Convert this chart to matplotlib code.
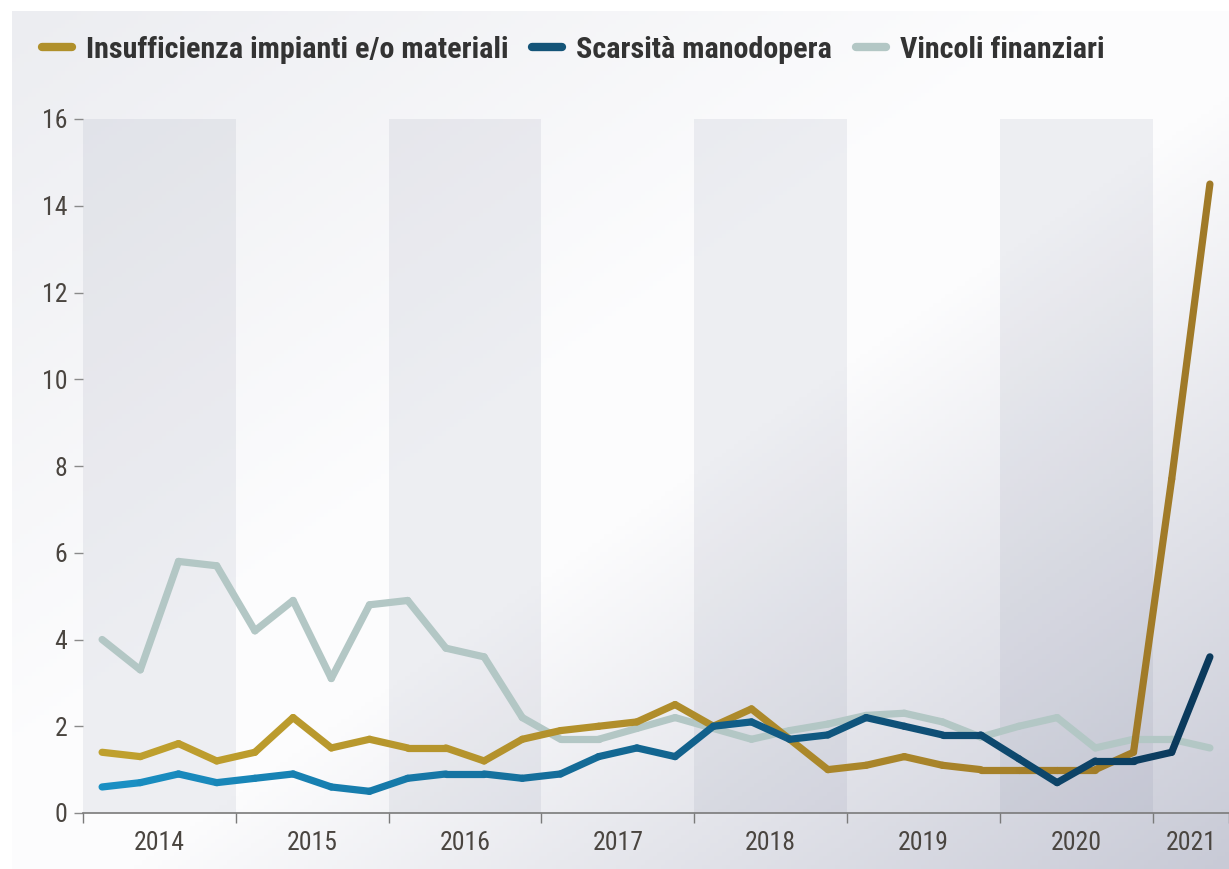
import numpy as np
import matplotlib
matplotlib.use('Agg')
import matplotlib.pyplot as plt
from matplotlib.collections import LineCollection
from matplotlib.colors import to_rgb
from matplotlib.lines import Line2D
from matplotlib import font_manager

# quarterly data, 2014Q1 - 2021Q2
years = ['2014', '2015', '2016', '2017', '2018', '2019', '2020', '2021']
impianti = [1.4, 1.3, 1.6, 1.2, 1.4, 2.2, 1.5, 1.7, 1.5, 1.5, 1.2, 1.7,
            1.9, 2.0, 2.1, 2.5, 2.0, 2.4, 1.7, 1.0, 1.1, 1.3, 1.1, 1.0,
            1.0, 1.0, 1.0, 1.4, 7.7, 14.5]
manodopera = [0.6, 0.7, 0.9, 0.7, 0.8, 0.9, 0.6, 0.5, 0.8, 0.9, 0.9, 0.8,
              0.9, 1.3, 1.5, 1.3, 2.0, 2.1, 1.7, 1.8, 2.2, 2.0, 1.8, 1.8,
              1.25, 0.7, 1.2, 1.2, 1.4, 3.6]
finanziari = [4.0, 3.3, 5.8, 5.7, 4.2, 4.9, 3.1, 4.8, 4.9, 3.8, 3.6, 2.2,
              1.7, 1.7, 1.95, 2.2, 1.95, 1.7, 1.9, 2.05, 2.25, 2.3, 2.1, 1.75,
              2.0, 2.2, 1.5, 1.7, 1.7, 1.5]
labels = ['Insufficienza impianti e/o materiali', 'Scarsità manodopera', 'Vincoli finanziari']


# look for a condensed font
def pick_font():
    cond = [f.name for f in font_manager.fontManager.ttflist
            if 'condensed' in str(f.stretch) or 'Condensed' in f.name or 'Narrow' in f.name]
    for pref in ['Roboto Condensed', 'DejaVu Sans', 'Noto Sans', 'Liberation Sans Narrow', 'Open Sans']:
        for n in cond:
            if n.startswith(pref):
                return n, True
    if cond:
        return cond[0], True
    return 'Roboto', False


fam, condensed = pick_font()
scale = 1.0 if condensed else 0.8
plt.rcParams['font.family'] = [fam, 'DejaVu Sans']
if condensed:
    plt.rcParams['font.stretch'] = 'condensed'

W, H = 1229, 869
fig = plt.figure(figsize=(W / 100, H / 100), dpi=100)

# background gradient panel
bg = fig.add_axes([12 / W, 0, 1 - 12 / W, 1 - 11 / H], zorder=-10)
gx, gy = np.meshgrid(np.linspace(0, 1, 300), np.linspace(0, 1, 200))
v = gx + gy
nodes = [0, 0.9, 1.1, 2.0]
cols = [(236, 237, 241), (253, 253, 254), (252, 252, 253), (200, 202, 214)]
img = np.dstack([np.interp(v, nodes, [c[k] for c in cols]) for k in range(3)]) / 255
bg.imshow(img, aspect='auto', extent=(0, 1, 0, 1), origin='upper')
bg.axis('off')

ax = fig.add_axes([83 / W, (H - 813) / H, (W - 83) / W, (813 - 119) / H])
ax.set_facecolor('none')

n = len(impianti)
x = np.arange(n) + 0.5

# alternate year bands
for i in range(0, len(years), 2):
    ax.axvspan(4 * i, min(4 * i + 4, n), color='#5c6486', alpha=0.09, lw=0, zorder=0)


def grad_line(y, c0, c1, z):
    y = np.asarray(y)
    pts = np.column_stack([x, y])
    segs = np.stack([pts[:-1], pts[1:]], axis=1)
    t = np.linspace(0, 1, len(segs))
    a, b = np.array(to_rgb(c0)), np.array(to_rgb(c1))
    colors = [a + (b - a) * tt for tt in t]
    lc = LineCollection(segs, colors=colors, linewidths=5.2, capstyle='round',
                        joinstyle='round', zorder=z)
    ax.add_collection(lc)


grad_line(finanziari, '#b3c7c5', '#b3c7c5', 2)
grad_line(impianti, '#bfa02e', '#a07a28', 3)
grad_line(manodopera, '#1a8fc3', '#0b3a5c', 4)

ax.set_xlim(0, n)
ax.set_ylim(0, 16)
for s in ['top', 'right', 'left']:
    ax.spines[s].set_visible(False)
ax.spines['bottom'].set_color('#7a7a7a')
ax.spines['bottom'].set_linewidth(1.2)

ax.set_yticks(range(0, 17, 2))
ax.tick_params(axis='y', length=6.5, width=1.0, color='#8a8a8a', pad=5,
               labelsize=18.5 * scale, labelcolor='#4a4540')

bounds = list(range(0, n, 4)) + [n]
ax.set_xticks(bounds)
ax.set_xticklabels([])
ax.tick_params(axis='x', which='major', length=7, width=1.0, color='#7a7a7a')
centers = [(bounds[i] + bounds[i + 1]) / 2 for i in range(len(years))]
ax.set_xticks(centers, minor=True)
ax.set_xticklabels(years, minor=True)
ax.tick_params(axis='x', which='minor', length=0, pad=13,
               labelsize=18.5 * scale, labelcolor='#4a4540')

handles = [Line2D([0], [0], color=c, lw=6, solid_capstyle='round')
           for c in ['#b0902b', '#145478', '#b3c7c5']]
leg = fig.legend(handles, labels, loc='center left', bbox_to_anchor=(42 / W, 1 - 50 / H),
                 ncol=3, frameon=False, borderpad=0, borderaxespad=0,
                 handlelength=1.0, handletextpad=0.45, columnspacing=0.8,
                 prop={'size': 21.7 * scale, 'weight': 'bold'})
for t in leg.get_texts():
    t.set_color('#333333')

fig.savefig('out.png', dpi=100)
